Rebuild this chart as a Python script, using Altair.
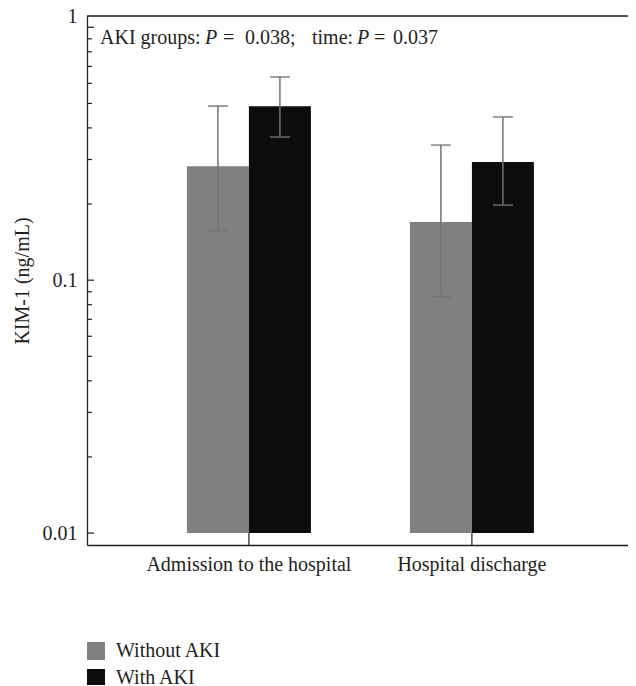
import altair as alt
import pandas as pd

categories = ["Admission to the hospital", "Hospital discharge"]
groups = ["Without AKI", "With AKI"]
without_mean = [0.282, 0.170]
with_mean = [0.487, 0.293]
without_lo = [0.157, 0.086]
without_hi = [0.488, 0.342]
with_lo = [0.368, 0.198]
with_hi = [0.636, 0.442]
bar_base = 0.01
major_ticks = [0.01, 0.1, 1]
minor_ticks = [0.02, 0.03, 0.04, 0.05, 0.06, 0.07, 0.08, 0.09,
               0.2, 0.3, 0.4, 0.5, 0.6, 0.7, 0.8, 0.9]
colors = ["#808080", "#0b0d0b"]

rows = []
for i, c in enumerate(categories):
    rows.append(dict(category=c, group=groups[0], value=without_mean[i],
                     lo=without_lo[i], hi=without_hi[i], base=bar_base))
    rows.append(dict(category=c, group=groups[1], value=with_mean[i],
                     lo=with_lo[i], hi=with_hi[i], base=bar_base))
df = pd.DataFrame(rows)

FONT = "Liberation Serif"
INK = "#231f20"
W, H = 541, 529

yscale = alt.Scale(type="log", domain=[0.00897, 1.108], nice=False)
xscale = alt.Scale(domain=categories, paddingInner=0.444, paddingOuter=0.435, align=0.515)
xoff = alt.XOffset("group:N", sort=groups,
                   scale=alt.Scale(domain=groups, paddingInner=0, paddingOuter=0))

yaxis = alt.Axis(title="KIM-1 (ng/mL)", values=major_ticks, format="~g",
                 ticks=False, grid=False, labelFont=FONT, labelFontSize=20,
                 labelColor=INK, labelPadding=10,
                 labelOffset={"condition": {"test": "datum.value === 1", "value": -11}, "value": 0},
                 titleFont=FONT, titleFontSize=20, titleFontWeight="normal",
                 titleColor=INK, titlePadding=10,
                 domainColor=INK, domainWidth=1.3)
xaxis = alt.Axis(title=None, ticks=False, labelAngle=0, labelFont=FONT,
                 labelFontSize=20, labelColor=INK, labelPadding=9, labelLimit=400,
                 domainColor=INK, domainWidth=1.3, grid=False)

base = alt.Chart(df)
X = alt.X("category:N", scale=xscale, sort=categories, axis=xaxis)

bars = base.mark_bar().encode(
    x=X,
    xOffset=xoff,
    y=alt.Y("value:Q", scale=yscale, axis=yaxis),
    y2=alt.Y2("base:Q"),
    color=alt.Color("group:N", sort=groups,
                    scale=alt.Scale(domain=groups, range=colors),
                    legend=alt.Legend(title=None, orient="none", legendX=-1, legendY=625,
                                      symbolType="square", symbolSize=324,
                                      symbolStrokeWidth=0, labelFont=FONT,
                                      labelFontSize=20, labelColor=INK,
                                      labelOffset=10, rowPadding=7, padding=0)),
)

ERR = "#747474"
err = base.mark_rule(color=ERR, strokeWidth=1.5).encode(
    x=X, xOffset=xoff,
    y=alt.Y("lo:Q", scale=yscale, axis=yaxis),
    y2="hi:Q",
)
caps_lo = base.mark_tick(color=ERR, size=20, thickness=2).encode(
    x=X, xOffset=xoff,
    y=alt.Y("lo:Q", scale=yscale, axis=yaxis),
)
caps_hi = base.mark_tick(color=ERR, size=20, thickness=2).encode(
    x=X, xOffset=xoff,
    y=alt.Y("hi:Q", scale=yscale, axis=yaxis),
)

yticks_major = alt.Chart(pd.DataFrame({"value": major_ticks})).mark_rule(
    color=INK, strokeWidth=1.2).encode(
    y=alt.Y("value:Q", scale=yscale, axis=yaxis), x=alt.value(0), x2=alt.value(7))
yticks_minor = alt.Chart(pd.DataFrame({"value": minor_ticks})).mark_rule(
    color=INK, strokeWidth=1.2).encode(
    y=alt.Y("value:Q", scale=yscale, axis=yaxis), x=alt.value(0), x2=alt.value(5))

xticks = alt.Chart(pd.DataFrame({"category": categories})).mark_rule(
    color=INK, strokeWidth=1.2).encode(
    x=X, y=alt.value(H), y2=alt.value(H - 12))

top_frame = alt.Chart(pd.DataFrame({"a": [0]})).mark_rule(
    color=INK, strokeWidth=1.3).encode(
    x=alt.value(0), x2=alt.value(W), y=alt.value(0))

segments = [
    ("AKI groups:", "normal", 13),
    ("P", "italic", 118),
    ("=", "normal", 136),
    ("0.038;", "normal", 158),
    ("time:", "normal", 225),
    ("P", "italic", 270),
    ("=", "normal", 287),
    ("0.037", "normal", 306),
]
ann_layers = []
for txt, style, xpos in segments:
    ann_layers.append(
        alt.Chart(pd.DataFrame({"t": [txt]})).mark_text(
            font=FONT, fontSize=20, fontStyle=style, align="left",
            baseline="alphabetic", color=INK).encode(
            text="t:N", x=alt.value(xpos), y=alt.value(28)))

chart = alt.layer(bars, err, caps_lo, caps_hi, yticks_major, yticks_minor,
                  xticks, top_frame, *ann_layers).properties(
    width=W, height=H,
    autosize=alt.AutoSizeParams(type="none"),
    padding={"left": 79, "top": 8, "right": 0, "bottom": 140},
).configure_view(stroke=None).configure(background="white")

chart.save("out.html", embed_options={"renderer": "svg", "actions": False})
